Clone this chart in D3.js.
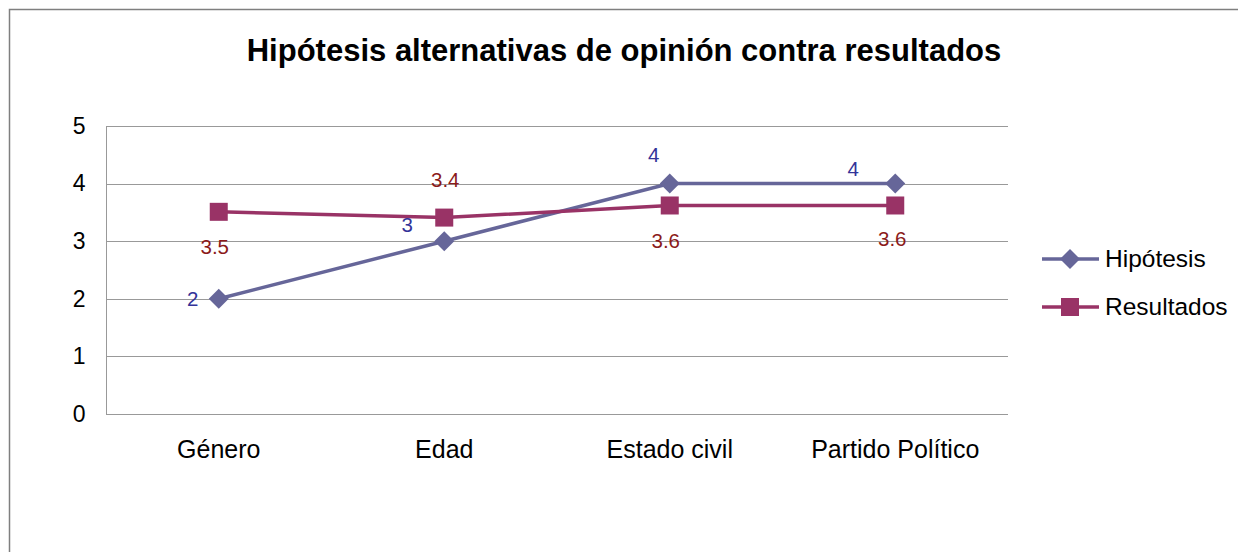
<!DOCTYPE html>
<html><head><meta charset="utf-8">
<script src="https://cdn.jsdelivr.net/npm/d3@7"></script>
<style>body{margin:0;background:#fff}svg{display:block;font-family:"Liberation Sans",Arial,sans-serif}</style>
</head><body>
<svg id="c" width="1238" height="552"></svg>
<script>
const title = "Hipótesis alternativas de opinión contra resultados";
const categories = ["Género", "Edad", "Estado civil", "Partido Político"];
const hipotesis = [2, 3, 4, 4];
const resultados = [3.51, 3.41, 3.62, 3.62];
const yTicks = [0, 1, 2, 3, 4, 5];
const seriesNames = ["Hipótesis", "Resultados"];

const svg = d3.select("#c");
svg.append("rect").attr("x", 9.5).attr("y", 9.5).attr("width", 1300).attr("height", 600)
  .attr("fill", "#fff").attr("stroke", "#7f7f7f").attr("stroke-width", 1.5);

const m = {l: 106, r: 1008, t: 126, b: 414};
const x = d3.scaleBand().domain(categories).range([m.l, m.r]);
const y = d3.scaleLinear().domain([0, 5]).range([m.b, m.t]);
const cx = c => x(c) + x.bandwidth() / 2;

svg.append("text").attr("x", 624).attr("y", 61).attr("text-anchor", "middle")
  .attr("font-size", 31).attr("font-weight", "bold").attr("fill", "#000").text(title);

// gridlines
svg.append("g").selectAll("line").data(yTicks.filter(d => d > 0)).join("line")
  .attr("x1", m.l).attr("x2", m.r).attr("y1", d => Math.round(y(d)) + 0.5).attr("y2", d => Math.round(y(d)) + 0.5)
  .attr("stroke", "#999").attr("stroke-width", 1);

// y axis
const ya = svg.append("g").attr("transform", `translate(${m.l},0)`)
  .call(d3.axisLeft(y).tickValues(yTicks).tickFormat(d3.format("d")).tickSize(0).tickPadding(20.5));
ya.select(".domain").attr("stroke", "#999");
ya.selectAll("text").attr("font-size", 23).attr("font-family", "Liberation Sans, Arial").attr("fill", "#000");

// x axis
const xa = svg.append("g").attr("transform", `translate(0,${m.b})`)
  .call(d3.axisBottom(x).tickSize(0));
xa.select(".domain").attr("stroke", "#999").attr("d", `M${m.l},0.5H${m.r}`);
xa.selectAll("text").attr("font-size", 25).attr("font-family", "Liberation Sans, Arial").attr("fill", "#000")
  .attr("y", 44).attr("dy", 0);

const colH = "#666699", colR = "#993366";
const line = d3.line().x((d, i) => cx(categories[i])).y(d => y(d));

svg.append("path").datum(hipotesis).attr("d", line).attr("fill", "none").attr("stroke", colH).attr("stroke-width", 3.5);
svg.append("path").datum(resultados).attr("d", line).attr("fill", "none").attr("stroke", colR).attr("stroke-width", 3.5);

const diamond = d3.symbol().type(d3.symbolSquare).size(200);
svg.append("g").selectAll("path").data(hipotesis).join("path")
  .attr("d", diamond).attr("fill", colH)
  .attr("transform", (d, i) => `translate(${cx(categories[i])},${y(d)}) rotate(45)`);
svg.append("g").selectAll("rect").data(resultados).join("rect")
  .attr("x", (d, i) => cx(categories[i]) - 9).attr("y", d => y(d) - 9)
  .attr("width", 18).attr("height", 18).attr("fill", colR);

// data labels
const hOff = [[-26, 7], [-37, -9], [-16, -22], [-42, -8]];
svg.append("g").selectAll("text").data(hipotesis).join("text")
  .attr("x", (d, i) => cx(categories[i]) + hOff[i][0]).attr("y", (d, i) => y(d) + hOff[i][1])
  .attr("text-anchor", "middle").attr("font-size", 20.5).attr("fill", "#333399").text(d => d3.format("d")(d));
const rOff = [[-4, 42], [1, -31], [-4, 43], [-3, 41]];
svg.append("g").selectAll("text").data(resultados).join("text")
  .attr("x", (d, i) => cx(categories[i]) + rOff[i][0]).attr("y", (d, i) => y(d) + rOff[i][1])
  .attr("text-anchor", "middle").attr("font-size", 20.5).attr("fill", "#8b1a1a").text(d => d3.format(".1f")(d));

// legend
const lg = svg.append("g");
[colH, colR].forEach((c, i) => {
  const ly = 259 + i * 48;
  lg.append("line").attr("x1", 1042).attr("x2", 1099).attr("y1", ly).attr("y2", ly).attr("stroke", c).attr("stroke-width", 3.5);
  if (i === 0) lg.append("path").attr("d", diamond).attr("fill", c).attr("transform", `translate(1070,${ly}) rotate(45)`);
  else lg.append("rect").attr("x", 1061).attr("y", ly - 9).attr("width", 18).attr("height", 18).attr("fill", c);
  lg.append("text").attr("x", 1105).attr("y", ly + 8).attr("font-size", 24.5).attr("fill", "#000").text(seriesNames[i]);
});
</script>
</body></html>
